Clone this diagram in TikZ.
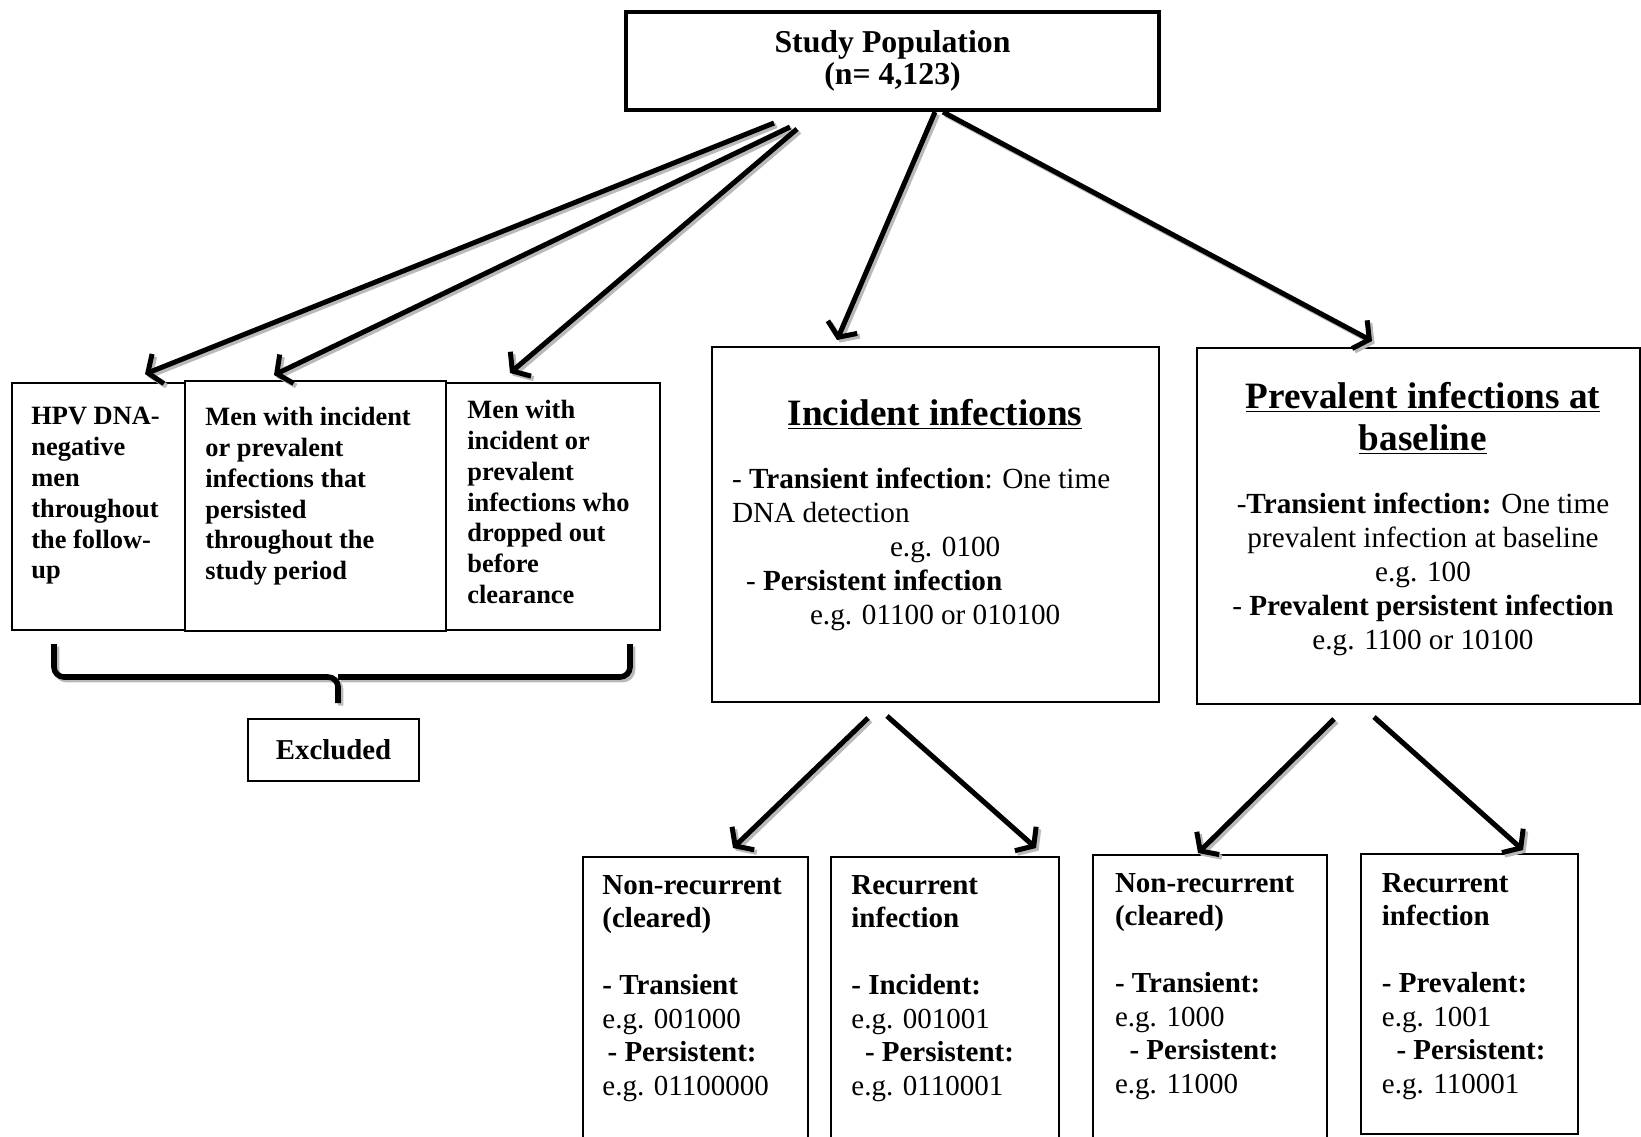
\documentclass[tikz,border=0pt]{standalone}
\usepackage{fontspec}
\setmainfont{Liberation Serif}
\usetikzlibrary{arrows.meta,positioning,calc}

\tikzset{
  box/.style={draw, line width=1pt, anchor=north west, inner sep=0pt},
  smalltext/.style={anchor=north west, inner sep=0pt, align=left,
    font=\fontsize{13.2pt}{15.4pt}\selectfont\bfseries},
  bottext/.style={anchor=north west, inner sep=0pt, align=left,
    font=\fontsize{14.5pt}{16.75pt}\selectfont\bfseries},
  bodytext/.style={inner sep=0pt, font=\fontsize{14.6pt}{16.9pt}\selectfont},
  titletext/.style={inner sep=0pt, font=\fontsize{18.6pt}{21pt}\selectfont\bfseries},
  arr/.style={line width=2.5pt, -{Straight Barb[length=5.5pt,width=16pt]}},
  shade/.style={draw=gray!55, transform canvas={shift={(1.3pt,-1.3pt)}}},
  brace/.style={line width=2.8pt, rounded corners=5pt}
}

\begin{document}
\begin{tikzpicture}[x=0.5pt, y=-0.5pt]
\useasboundingbox (0,0) rectangle (1641,1136);
\clip (0,0) rectangle (1641,1136);

% top box
\node[draw, line width=2pt, minimum width=266.5pt, minimum height=48.75pt, align=center,
  font=\fontsize{15.9pt}{16.2pt}\selectfont\bfseries] (study) at (892.5,61) {Study Population\\(n= 4,123)};

% excluded groups
\node[box, minimum width=86.75pt, minimum height=123.5pt] (excl1) at (10.5,382) {};
\node[smalltext, below right=12.5pt and 10.25pt of excl1.north west] (excl1txt) {HPV DNA-\\negative\\men\\throughout\\the follow-\\up};
\node[box, minimum width=130.5pt, minimum height=125pt] (excl2) at (184,380) {};
\node[smalltext, below right=13.5pt and 10.5pt of excl2.north west] (excl2txt) {Men with incident\\or prevalent\\infections that\\persisted\\throughout the\\study period};
\node[box, minimum width=107pt, minimum height=123.5pt] (excl3) at (445,382) {};
\node[smalltext, below right=9pt and 11pt of excl3.north west] (excl3txt) {Men with\\incident or\\prevalent\\infections who\\dropped out\\before\\clearance};

\draw[brace, shade] (54,644) |- (338,677) -- (338,703);
\draw[brace, shade] (630,644) |- (338,677);
\draw[brace] (54,644) |- (338,677) -- (338,703);
\draw[brace] (630,644) |- (338,677);
\node[draw, line width=1pt, minimum width=85.5pt, minimum height=31pt,
  font=\fontsize{14.4pt}{16pt}\selectfont\bfseries] (excl) at (333.5,750) {Excluded};

% incident
\node[box, minimum width=223.5pt, minimum height=177.5pt] (inc) at (711,346) {};
\node[titletext, anchor=base] (inctitle) at (935,425) {\underline{Incident infections}};
\node[bodytext, anchor=north west, align=left, below right=61pt and 10.3pt of inc.north west] (incbody)
  {- \textbf{Transient infection}: One time\\DNA detection\\\hspace*{79pt}e.g. 0100\\\hspace*{7pt}- \textbf{Persistent infection}\\\hspace*{39pt}e.g. 01100 or 010100};

% prevalent
\node[box, minimum width=221.5pt, minimum height=178pt] (prev) at (1196,347) {};
\node[titletext, anchor=north, align=center] (prevtitle) at (1423,382) {\underline{Prevalent infections at}\\\underline{baseline}};
\node[bodytext, anchor=north, align=center] (prevbody) at (1423,493)
  {-\textbf{Transient infection:} One time\\prevalent infection at baseline\\e.g. 100\\- \textbf{Prevalent persistent infection}\\e.g. 1100 or 10100};

% outcomes
\node[box, minimum width=112.5pt, minimum height=147pt] (b1) at (582,856) {};
\node[bottext, below right=9.5pt and 10pt of b1.north west] (b1txt)
  {Non-recurrent\\(cleared)\\[16.75pt]- Transient\\\textmd{e.g. 001000}\\\hspace*{2.6pt}- Persistent:\\\textmd{e.g. 01100000}};
\node[box, minimum width=114pt, minimum height=147pt] (b2) at (830,856) {};
\node[bottext, below right=9.5pt and 10.5pt of b2.north west] (b2txt)
  {Recurrent\\infection\\[16.75pt]- Incident:\\\textmd{e.g. 001001}\\\hspace*{6.8pt}- Persistent:\\\textmd{e.g. 0110001}};
\node[box, minimum width=117pt, minimum height=148pt] (b3) at (1092,854) {};
\node[bottext, below right=9.5pt and 11.3pt of b3.north west] (b3txt)
  {Non-recurrent\\(cleared)\\[16.75pt]- Transient:\\\textmd{e.g. 1000}\\\hspace*{7.3pt}- Persistent:\\\textmd{e.g. 11000}};
\node[box, minimum width=108.5pt, minimum height=140pt] (b4) at (1360,853) {};
\node[bottext, below right=10pt and 10.75pt of b4.north west] (b4txt)
  {Recurrent\\infection\\[16.75pt]- Prevalent:\\\textmd{e.g. 1001}\\\hspace*{7.3pt}- Persistent:\\\textmd{e.g. 110001}};

% arrow ends
\coordinate (s1) at (774,123);  \coordinate (e1) at (145,374);
\coordinate (s2) at (790,127);  \coordinate (e2) at (274,375);
\coordinate (s3) at (797,129);  \coordinate (e3) at (510,373);
\coordinate (s4) at (935,112);  \coordinate (e4) at (837,340);
\coordinate (s5) at (943,112);  \coordinate (e5) at (1372,341);
\coordinate (s6) at (868,718);  \coordinate (e6) at (733,848);
\coordinate (s7) at (887,716);  \coordinate (e7) at (1036,848);
\coordinate (s8) at (1334,719); \coordinate (e8) at (1198,853);
\coordinate (s9) at (1374,717); \coordinate (e9) at (1523,850);

\foreach \i in {1,...,9}
  \draw[arr, shade] (s\i) -- (e\i);
\foreach \i in {1,...,9}
  \draw[arr] (s\i) -- (e\i);
\end{tikzpicture}
\end{document}
